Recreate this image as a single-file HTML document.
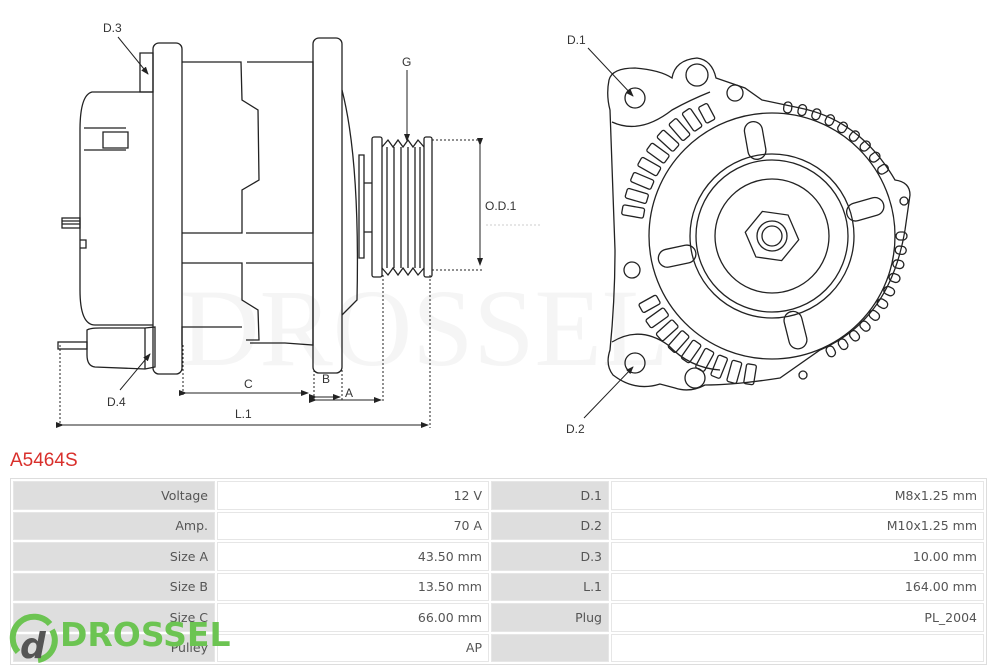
<!DOCTYPE html>
<html><head><meta charset="utf-8"><style>
html,body{margin:0;padding:0;background:#fff;}
body{width:1000px;height:667px;position:relative;overflow:hidden;font-family:"DejaVu Sans","Liberation Sans",sans-serif;}
svg{position:absolute;left:0;top:0;}
.t{position:absolute;left:10px;top:450px;color:#d9302c;font-family:"Liberation Sans",sans-serif;font-size:19px;}
table{position:absolute;left:10px;top:478px;width:977px;border-collapse:separate;border-spacing:2px;border:1px solid #ddd;background:#fff;}
td{height:26.5px;padding:0 6px;font-size:12.5px;color:#555;text-align:right;border:1px solid #e6e6e6;}
td.l{background:#dedede;}
.logo{position:absolute;left:60px;top:615px;font-family:"DejaVu Sans",sans-serif;font-weight:bold;font-size:33px;color:#6cc452;}
</style></head><body>
<svg width="1000" height="667" viewBox="0 0 1000 667">
<defs><marker id="a" markerWidth="8" markerHeight="8" refX="7" refY="4" orient="auto"><path d="M0,1 L8,4 L0,7z" fill="#222"/></marker></defs>
<text x="180" y="365" font-family="Liberation Serif,serif" font-size="110" fill="#f5f5f5">DROSSEL</text>
<g fill="none" stroke="#222" stroke-width="1.3">
<path d="M140,53 h13 v39 h-13z"/>
<path d="M153,92 H92 Q80,95 80,130 V290 Q80,325 95,325 H153"/>
<path d="M84,128 H126 M103,132 H128 V148 H103z M84,150 H126"/>
<path d="M80,240 H86 V248 H80"/>
<rect x="62" y="218" width="18" height="10"/>
<path d="M62,221 H80 M62,224 H80"/>
<rect x="153" y="43" width="29" height="331" rx="6"/>
<rect x="313" y="38" width="29" height="335" rx="6"/>
<path d="M182,62 H241 L242,100 L258,110 L259,180 L242,190 V233 H182 M247,62 H313 V233 H246 M182,263 H242 V300 L258,310 L259,340 H246 M246,263 H313 V345 L285,343 H250 M182,345 V327 L242,327"/>
<path d="M342,90 Q360,160 357,300 L342,315"/>
<path d="M87,330 Q90,328 100,328 L145,328 L155,327 V367 L145,369 L95,367 Q87,366 87,355z"/>
<path d="M145,328 V369"/>
<rect x="58" y="342" width="29" height="7"/>
<path d="M359,155 h5 v103 h-5z M364,183 H372 M364,232 H372"/>
<rect x="372" y="137" width="10" height="140" rx="2"/>
<rect x="424" y="137" width="8" height="140" rx="2"/>
<path d="M382,147 L388,140 L393,147 L398,140 L403,147 L408,140 L413,147 L418,140 L424,147 M382,268 L388,275 L393,268 L398,275 L403,268 L408,275 L413,268 L418,275 L424,268"/>
<path d="M387,147 V268 M394,147 V268 M401,147 V268 M408,147 V268 M415,147 V268 M420,147 V268"/>
<g stroke-dasharray="2,2" stroke-width="1"><path d="M432,140 H484 M432,270 H484 M60,345 V425 M183,345 V395 M314,370 V402 M342,370 V400 M383,275 V402 M430,275 V428"/></g>
<path d="M480,145 V265" marker-start="url(#a)" marker-end="url(#a)" stroke-width="1"/>
<path d="M486,225 H540" stroke="#ccc" stroke-width="1" stroke-dasharray="2,2"/>
<path d="M186,393 H308" marker-start="url(#a)" marker-end="url(#a)" stroke-width="1"/>
<path d="M316,397 H340" marker-start="url(#a)" marker-end="url(#a)" stroke-width="1"/>
<path d="M316,400 H381" marker-start="url(#a)" marker-end="url(#a)" stroke-width="1"/>
<path d="M63,425 H428" marker-start="url(#a)" marker-end="url(#a)" stroke-width="1"/>
<path d="M407,70 V141" marker-end="url(#a)" stroke-width="1"/>
<path d="M118,37 L148,74" marker-end="url(#a)" stroke-width="1"/>
<path d="M120,390 L150,354" marker-end="url(#a)" stroke-width="1"/>
<path d="M609,80 Q612,68 635,68 Q660,70 672,78 Q675,60 697,58 Q712,60 716,78 L745,88 L762,100 L800,108 Q860,120 895,180 Q910,182 910,195 L905,230 Q890,320 820,350 L780,378 Q735,385 705,385 Q690,393 675,388 L660,384 Q635,392 613,375 Q605,365 610,350 Q615,300 615,250 Q612,170 610,110 Q606,95 609,80z"/>
<circle cx="635" cy="98" r="10"/><circle cx="697" cy="75" r="11"/><circle cx="735" cy="93" r="8"/>
<circle cx="635" cy="363" r="10"/><circle cx="695" cy="378" r="10"/><circle cx="632" cy="270" r="8"/><circle cx="803" cy="375" r="4"/><circle cx="904" cy="201" r="4"/>
<path d="M612,122 Q640,135 672,110 Q690,100 710,92" /><path d="M612,342 Q640,325 668,345 Q690,368 720,370"/>
<circle cx="772" cy="236" r="123"/>
<circle cx="772" cy="236" r="82"/><circle cx="772" cy="236" r="76"/><circle cx="772" cy="236" r="57"/>
<polygon points="799,236 785,259 759,259 745,236 759,213 785,213" transform="rotate(8 772 236)"/>
<circle cx="772" cy="236" r="15"/><circle cx="772" cy="236" r="10"/>
<g>
<rect x="850" y="227" width="38" height="18" rx="9" transform="rotate(-100 772 236)"/>
<rect x="850" y="227" width="38" height="18" rx="9" transform="rotate(-16 772 236)"/>
<rect x="850" y="227" width="38" height="18" rx="9" transform="rotate(168 772 236)"/>
<rect x="850" y="227" width="38" height="18" rx="9" transform="rotate(76 772 236)"/>
</g>
<g>
<rect x="902" y="231" width="22" height="10" rx="2" transform="rotate(190 772 236)"/>
<rect x="902" y="231" width="22" height="10" rx="2" transform="rotate(196.5 772 236)"/>
<rect x="902" y="231" width="22" height="10" rx="2" transform="rotate(203 772 236)"/>
<rect x="902" y="231" width="22" height="10" rx="2" transform="rotate(209.5 772 236)"/>
<rect x="902" y="231" width="22" height="10" rx="2" transform="rotate(216 772 236)"/>
<rect x="902" y="231" width="22" height="10" rx="2" transform="rotate(222.5 772 236)"/>
<rect x="902" y="231" width="22" height="10" rx="2" transform="rotate(229 772 236)"/>
<rect x="902" y="231" width="22" height="10" rx="2" transform="rotate(235.5 772 236)"/>
<rect x="902" y="231" width="18" height="10" rx="2" transform="rotate(242 772 236)"/>
<rect x="902" y="231" width="20" height="10" rx="2" transform="rotate(99 772 236)"/>
<rect x="902" y="231" width="22" height="10" rx="2" transform="rotate(105.5 772 236)"/>
<rect x="902" y="231" width="22" height="10" rx="2" transform="rotate(112 772 236)"/>
<rect x="902" y="231" width="22" height="10" rx="2" transform="rotate(118.5 772 236)"/>
<rect x="902" y="231" width="22" height="10" rx="2" transform="rotate(125 772 236)"/>
<rect x="902" y="231" width="22" height="10" rx="2" transform="rotate(131.5 772 236)"/>
<rect x="902" y="231" width="22" height="10" rx="2" transform="rotate(138 772 236)"/>
<rect x="902" y="231" width="22" height="10" rx="2" transform="rotate(144.5 772 236)"/>
<rect x="902" y="231" width="20" height="10" rx="2" transform="rotate(151 772 236)"/>
</g>
<g>
<rect x="896" y="232" width="11" height="8" rx="4" transform="rotate(-83 772 236)"/>
<rect x="896" y="232" width="11" height="8" rx="4" transform="rotate(-76.5 772 236)"/>
<rect x="896" y="232" width="11" height="8" rx="4" transform="rotate(-70 772 236)"/>
<rect x="896" y="232" width="11" height="8" rx="4" transform="rotate(-63.5 772 236)"/>
<rect x="896" y="232" width="11" height="8" rx="4" transform="rotate(-57 772 236)"/>
<rect x="896" y="232" width="11" height="8" rx="4" transform="rotate(-50.5 772 236)"/>
<rect x="896" y="232" width="11" height="8" rx="4" transform="rotate(-44 772 236)"/>
<rect x="896" y="232" width="11" height="8" rx="4" transform="rotate(-37.5 772 236)"/>
<rect x="896" y="232" width="11" height="8" rx="4" transform="rotate(-31 772 236)"/>
<rect x="896" y="232" width="11" height="8" rx="4" transform="rotate(0 772 236)"/>
<rect x="896" y="232" width="11" height="8" rx="4" transform="rotate(6.3 772 236)"/>
<rect x="896" y="232" width="11" height="8" rx="4" transform="rotate(12.6 772 236)"/>
<rect x="896" y="232" width="11" height="8" rx="4" transform="rotate(18.9 772 236)"/>
<rect x="896" y="232" width="11" height="8" rx="4" transform="rotate(25.2 772 236)"/>
<rect x="896" y="232" width="11" height="8" rx="4" transform="rotate(31.5 772 236)"/>
<rect x="896" y="232" width="11" height="8" rx="4" transform="rotate(37.8 772 236)"/>
<rect x="896" y="232" width="11" height="8" rx="4" transform="rotate(44.1 772 236)"/>
<rect x="896" y="232" width="11" height="8" rx="4" transform="rotate(50.4 772 236)"/>
<rect x="896" y="232" width="11" height="8" rx="4" transform="rotate(56.7 772 236)"/>
<rect x="896" y="232" width="11" height="8" rx="4" transform="rotate(63 772 236)"/>
</g>
<path d="M588,48 L633,96" marker-end="url(#a)" stroke-width="1"/>
<path d="M584,418 L633,367" marker-end="url(#a)" stroke-width="1"/>
</g>
<g font-family="Liberation Sans,sans-serif" font-size="12" fill="#333">
<text x="103" y="32">D.3</text><text x="107" y="406">D.4</text>
<text x="402" y="66">G</text><text x="485" y="210">O.D.1</text>
<text x="244" y="388">C</text><text x="322" y="383">B</text><text x="345" y="397">A</text><text x="235" y="418">L.1</text>
<text x="567" y="44">D.1</text><text x="566" y="433">D.2</text>
</g>
</svg>
<div class="t">A5464S</div>
<table>
<tr><td class="l" style="width:188px">Voltage</td><td style="width:258px">12 V</td><td class="l" style="width:104px">D.1</td><td>M8x1.25 mm</td></tr>
<tr><td class="l">Amp.</td><td>70 A</td><td class="l">D.2</td><td>M10x1.25 mm</td></tr>
<tr><td class="l">Size A</td><td>43.50 mm</td><td class="l">D.3</td><td>10.00 mm</td></tr>
<tr><td class="l">Size B</td><td>13.50 mm</td><td class="l">L.1</td><td>164.00 mm</td></tr>
<tr><td class="l">Size C</td><td>66.00 mm</td><td class="l">Plug</td><td>PL_2004</td></tr>
<tr><td class="l">Pulley</td><td>AP</td><td class="l"></td><td></td></tr>
</table>
<svg width="60" height="60" style="left:8px;top:612px" viewBox="0 0 60 60">
<path d="M10,40 A20,20 0 1 1 42,12" fill="none" stroke="#6cc452" stroke-width="6"/>
<path d="M44,18 A20,20 0 0 1 30,48" fill="none" stroke="#6cc452" stroke-width="6"/>
<text x="12" y="46" font-family="DejaVu Sans,sans-serif" font-weight="bold" font-style="italic" font-size="36" fill="#555">d</text>
</svg>
<div class="logo">DROSSEL</div>
</body></html>
